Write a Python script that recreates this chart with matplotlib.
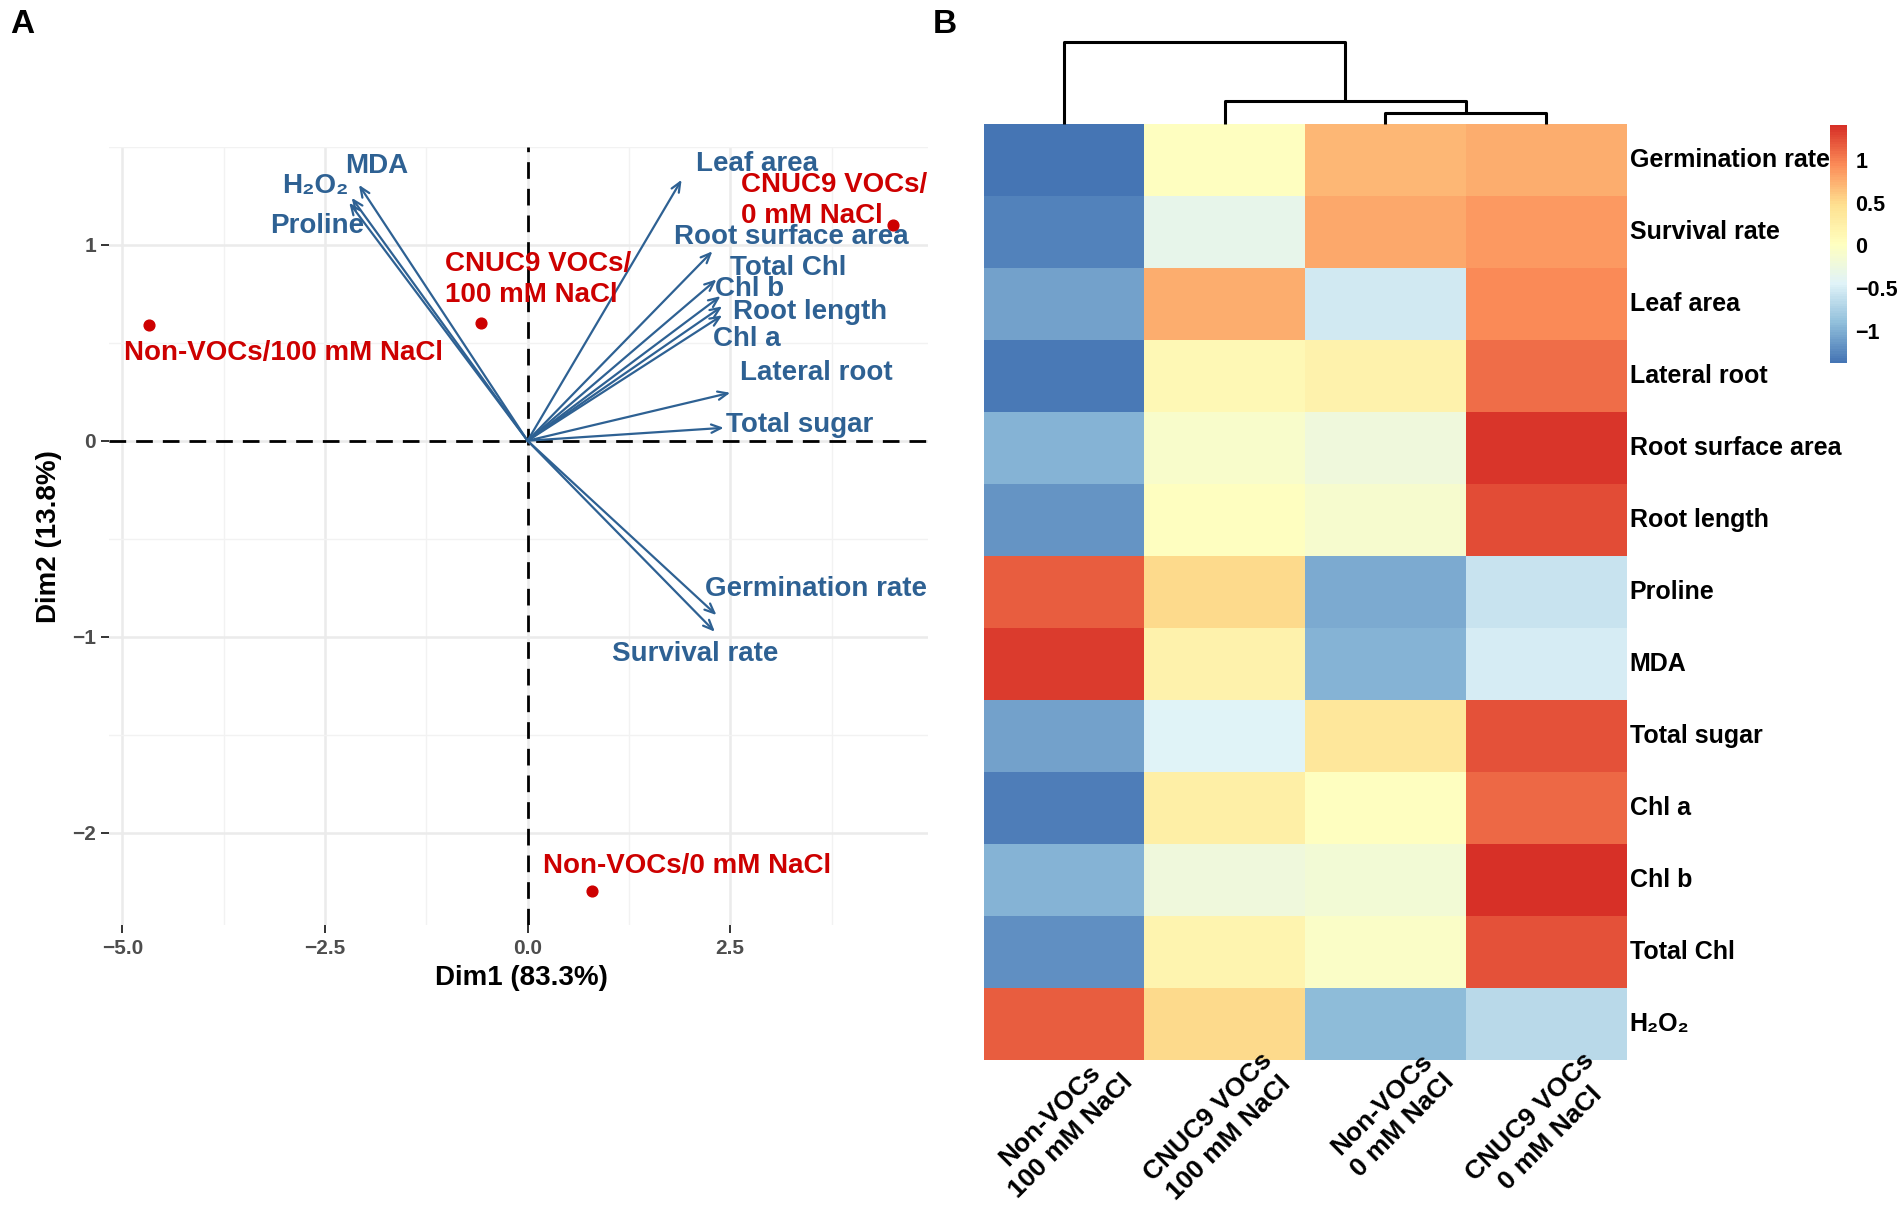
import numpy as np
import matplotlib
matplotlib.use('Agg')
import matplotlib.pyplot as plt
from matplotlib.colors import LinearSegmentedColormap

plt.rcParams['font.family'] = ['Liberation Sans', 'DejaVu Sans']
plt.rcParams['font.weight'] = 'bold'

# ---- Panel A: PCA biplot ----
dim1_label = 'Dim1 (83.3%)'
dim2_label = 'Dim2 (13.8%)'

groups = ['Non-VOCs/100 mM NaCl', 'CNUC9 VOCs/\n100 mM NaCl',
          'CNUC9 VOCs/\n0 mM NaCl', 'Non-VOCs/0 mM NaCl']
group_dim1 = [-4.67, -0.57, 4.51, 0.80]
group_dim2 = [0.59, 0.60, 1.10, -2.30]

variables = ['MDA', 'H\u2082O\u2082', 'Proline', 'Leaf area', 'Root surface area',
             'Total Chl', 'Chl b', 'Root length', 'Chl a', 'Lateral root',
             'Total sugar', 'Germination rate', 'Survival rate']
var_dim1 = [-2.08, -2.17, -2.20, 1.90, 2.28, 2.33, 2.38, 2.40, 2.40, 2.50, 2.42, 2.33, 2.31]
var_dim2 = [1.306, 1.24, 1.215, 1.332, 0.967, 0.823, 0.738, 0.686, 0.64, 0.245, 0.066, -0.89, -0.975]

# label placement (data coords of text anchors)
group_label_xy = [(-3.01, 0.446, 'center'), (-1.018, 0.825, 'left'),
                  (2.635, 1.224, 'left'), (0.195, -2.17, 'left')]
var_label_xy = [(-1.856, 1.401), (-2.62, 1.302), (-2.59, 1.097), (2.83, 1.413),
                (3.25, 1.042), (3.22, 0.880), (2.74, 0.775), (3.49, 0.657),
                (2.71, 0.521), (3.56, 0.347), (3.35, 0.081), (3.56, -0.756),
                (2.07, -1.091)]

# ---- Panel B: heatmap (row-scaled values) ----
traits = ['Germination rate', 'Survival rate', 'Leaf area', 'Lateral root',
          'Root surface area', 'Root length', 'Proline', 'MDA', 'Total sugar',
          'Chl a', 'Chl b', 'Total Chl', 'H\u2082O\u2082']
treatments = ['Non-VOCs\n100 mM NaCl', 'CNUC9 VOCs\n100 mM NaCl',
              'Non-VOCs\n0 mM NaCl', 'CNUC9 VOCs\n0 mM NaCl']
heat_values = np.array([
    [-1.38, 0.01, 0.71, 0.75],
    [-1.28, -0.33, 0.77, 0.86],
    [-1.08, 0.75, -0.54, 0.95],
    [-1.35, 0.10, 0.21, 1.08],
    [-0.97, -0.09, -0.22, 1.38],
    [-1.17, 0.00, -0.10, 1.26],
    [1.16, 0.51, -1.02, -0.59],
    [1.35, 0.20, -0.97, -0.49],
    [-1.08, -0.45, 0.36, 1.24],
    [-1.32, 0.26, 0.00, 1.11],
    [-0.97, -0.21, -0.17, 1.41],
    [-1.21, 0.16, -0.06, 1.22],
    [1.17, 0.51, -0.93, -0.67],
])
# column clustering: (left, right, height)
col_merges = [(2, 3, 9.1), (1, 4, 19.5), (0, 5, 68.1)]
cbar_ticks = [-1, -0.5, 0, 0.5, 1]
cbar_ticklabels = ['\u22121', '\u22120.5', '0', '0.5', '1']

blue = '#2E6193'
red = '#CD0000'

fig = plt.figure(figsize=(19.04, 12.12), dpi=100)

# ---------------- Panel A ----------------
ax = fig.add_axes([0.0574, 0.2365, 0.4298, 0.6423])
ax.set_xlim(-5.16, 4.935)
ax.set_ylim(-2.474, 1.50)
for s in ax.spines.values():
    s.set_visible(False)
ax.set_xticks([-5.0, -2.5, 0.0, 2.5])
ax.set_xticklabels(['\u22125.0', '\u22122.5', '0.0', '2.5'])
ax.set_yticks([-2, -1, 0, 1])
ax.set_yticklabels(['\u22122', '\u22121', '0', '1'])
ax.set_xticks([-3.75, -1.25, 1.25, 3.75], minor=True)
ax.set_yticks([-1.5, -0.5, 0.5, 1.5], minor=True)
ax.grid(True, which='major', color='#EBEBEB', lw=1.8, zorder=0)
ax.grid(True, which='minor', color='#F2F2F2', lw=1.0, zorder=0)
ax.tick_params(which='major', length=5.5, width=1.4, color='#333333',
               labelsize=15, labelcolor='#4D4D4D', pad=4)
ax.tick_params(which='minor', length=0)
ax.set_axisbelow(True)

ax.axhline(0, color='black', lw=2.0, ls=(0, (6, 3.6)), zorder=1)
ax.axvline(0, color='black', lw=2.0, ls=(0, (6, 3.6)), zorder=1)

for vx, vy in zip(var_dim1, var_dim2):
    ax.annotate('', xy=(vx, vy), xytext=(0, 0),
                arrowprops=dict(arrowstyle='->,head_length=0.7,head_width=0.3',
                                color=blue, lw=1.6, shrinkA=0, shrinkB=0),
                zorder=2)
for name, (tx, ty) in zip(variables, var_label_xy):
    ax.text(tx, ty, name, color=blue, fontsize=20, fontweight='bold',
            ha='center', va='center', zorder=3)

ax.scatter(group_dim1, group_dim2, s=60, color=red, zorder=4)
for name, (tx, ty, ha) in zip(groups, group_label_xy):
    ax.text(tx, ty, name, color=red, fontsize=20, fontweight='bold',
            ha=ha, va='center', multialignment='left', linespacing=1.25, zorder=4)

ax.set_xlabel(dim1_label, fontsize=20, fontweight='bold')
ax.set_ylabel(dim2_label, fontsize=20, fontweight='bold')
ax.xaxis.set_label_coords(0.504, -0.051)
ax.yaxis.set_label_coords(-0.058, 0.5)

fig.text(0.0115, 0.98, 'A', fontsize=24, fontweight='bold', ha='center', va='center')
fig.text(0.496, 0.98, 'B', fontsize=24, fontweight='bold', ha='center', va='center')

# ---------------- Panel B ----------------
rdylbu7 = ['#D73027', '#FC8D59', '#FEE090', '#FFFFBF', '#E0F3F8', '#91BFDB', '#4575B4']
cmap = LinearSegmentedColormap.from_list('ph', rdylbu7[::-1], N=100)
vmin, vmax = heat_values.min(), heat_values.max()

hx = fig.add_axes([0.5166, 0.1253, 0.3377, 0.7722])
nr, nc = heat_values.shape
im = hx.imshow(heat_values, cmap=cmap, vmin=vmin, vmax=vmax, aspect='auto',
               interpolation='nearest', extent=(0, nc, nr, 0))
hx.set_xlim(0, nc)
hx.set_ylim(nr, 0)
hx.axis('off')
for i, t in enumerate(traits):
    hx.text(nc + 0.02, i + 0.5, t, fontsize=18, fontweight='bold',
            ha='left', va='center')
for j, t in enumerate(treatments):
    hx.text(j + 0.5 + 0.22, nr - 0.16, t, fontsize=19, fontweight='bold',
            rotation=45, rotation_mode='anchor', ha='right', va='top',
            multialignment='center', linespacing=1.3)

# dendrogram
dx = fig.add_axes([0.5166, 0.8974, 0.3377, 0.0682])
node_x = {i: i + 0.5 for i in range(nc)}
node_h = {i: 0.0 for i in range(nc)}
for k, (a, b, h) in enumerate(col_merges):
    xa, xb = node_x[a], node_x[b]
    dx.plot([xa, xa, xb, xb], [node_h[a], h, h, node_h[b]], color='black',
            lw=2.2, solid_capstyle='butt', clip_on=False)
    node_x[nc + k] = (xa + xb) / 2
    node_h[nc + k] = h
dx.set_xlim(0, nc)
dx.set_ylim(0, col_merges[-1][2])
dx.axis('off')

# colour key
cax = fig.add_axes([0.9611, 0.7004, 0.0089, 0.1964])
cb = fig.colorbar(im, cax=cax)
cb.outline.set_visible(False)
cb.set_ticks(cbar_ticks)
cb.set_ticklabels(cbar_ticklabels)
cax.tick_params(length=0, labelsize=15.5, pad=6)
for lab in cax.get_yticklabels():
    lab.set_fontweight('bold')

fig.savefig('out.png', dpi=100)
